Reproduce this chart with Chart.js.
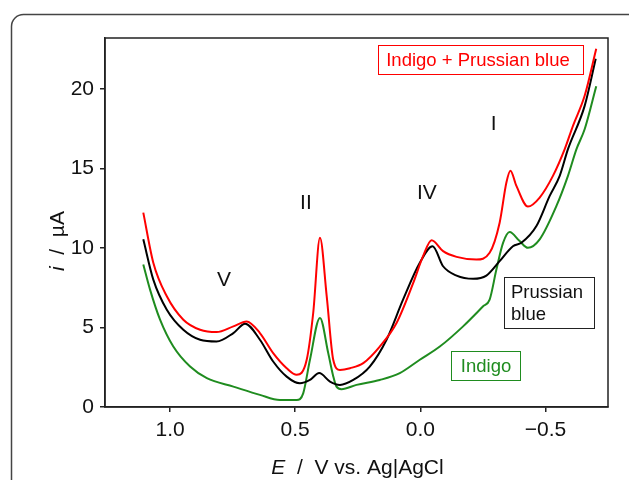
<!DOCTYPE html>
<html><head><meta charset="utf-8">
<script src="https://cdn.jsdelivr.net/npm/chart.js@4/dist/chart.umd.min.js"></script>
<style>html,body{margin:0;padding:0;background:#fff;}#wrap{width:629px;height:480px;}</style>
</head><body><div id="wrap"><canvas id="c" width="629" height="480"></canvas></div>
<script>
// Potential E (V vs Ag|AgCl) and current i (µA) for each series
const eMix = [1.107,1.067,1.013,0.947,0.880,0.814,0.747,0.694,0.641,0.588,0.534,0.494,0.454,0.428,0.401,0.374,0.348,0.321,0.281,0.228,0.162,0.095,0.029,-0.011,-0.045,-0.091,-0.145,-0.224,-0.277,-0.317,-0.344,-0.360,-0.384,-0.430,-0.477,-0.530,-0.577,-0.610,-0.657,-0.703];
const iMix = [12.22,9.07,6.96,5.49,4.86,4.71,5.07,5.38,4.65,3.39,2.44,2.02,2.97,5.91,10.64,6.96,2.97,2.33,2.44,2.76,3.80,5.28,7.77,9.48,10.49,9.80,9.44,9.27,9.70,11.59,14.11,14.85,13.90,12.60,13.17,14.53,16.21,17.68,19.58,22.52];
const ePB = [1.107,1.067,1.013,0.947,0.880,0.814,0.747,0.700,0.641,0.588,0.534,0.481,0.441,0.404,0.361,0.321,0.268,0.202,0.135,0.069,0.002,-0.049,-0.091,-0.145,-0.211,-0.264,-0.317,-0.370,-0.404,-0.464,-0.517,-0.557,-0.590,-0.657,-0.701];
const iPB = [10.54,8.01,6.12,4.86,4.23,4.12,4.65,5.24,4.23,2.86,1.91,1.49,1.70,2.13,1.60,1.39,1.70,2.54,4.23,6.75,9.07,10.11,8.85,8.26,8.06,8.26,9.17,10.11,10.33,11.38,13.27,14.53,16.21,18.95,21.89];
const eInd = [1.107,1.080,1.040,0.987,0.920,0.853,0.747,0.641,0.561,0.494,0.468,0.441,0.401,0.368,0.349,0.335,0.315,0.255,0.162,0.082,0.002,-0.078,-0.171,-0.251,-0.277,-0.304,-0.331,-0.357,-0.397,-0.430,-0.477,-0.544,-0.590,-0.624,-0.657,-0.703];
const iInd = [8.96,7.38,5.49,3.80,2.54,1.81,1.28,0.76,0.44,0.44,0.86,2.97,5.60,3.39,2.00,1.28,1.12,1.39,1.70,2.13,2.97,3.80,5.07,6.33,6.75,8.64,10.33,11.00,10.43,10.01,10.54,12.64,14.53,16.21,17.48,20.17];
const xTickValues = [1.0, 0.5, 0.0, -0.5];
const xTickLabels = ["1.0", "0.5", "0.0", "\u22120.5"];
const yTickValues = [0, 5, 10, 15, 20];
const yTickLabels = ["0", "5", "10", "15", "20"];
const peakLabels = ["V", "II", "IV", "I"];
const peakE = [0.784, 0.457, -0.026, -0.293];
const peakI = [7.95, 12.8, 13.44, 17.8];

const FONT = '"Liberation Sans", Arial, sans-serif';
const RED = '#ff0000', BLACK = '#000000', GREEN = '#1f8c1f';
const pts = (xs, ys) => xs.map((x, k) => ({x: x, y: ys[k]}));

const decor = {
  id: 'decor',
  beforeDraw(chart) {
    const ctx = chart.ctx;
    ctx.save();
    ctx.fillStyle = '#fff';
    ctx.fillRect(0, 0, chart.width, chart.height);
    ctx.strokeStyle = '#444';
    ctx.lineWidth = 1.5;
    ctx.beginPath();
    ctx.roundRect(11.5, 14.5, 640, 520, 12);
    ctx.stroke();
    ctx.restore();
  },
  afterDraw(chart) {
    const ctx = chart.ctx, a = chart.chartArea;
    const xs = chart.scales.x, ys = chart.scales.y;
    ctx.save();
    ctx.strokeStyle = '#222';
    ctx.lineWidth = 1.5;
    ctx.strokeRect(a.left, a.top, a.right - a.left, a.bottom - a.top);
    // peak labels
    ctx.fillStyle = '#111';
    ctx.font = '21px ' + FONT;
    ctx.textAlign = 'center';
    ctx.textBaseline = 'middle';
    peakLabels.forEach((t, k) => ctx.fillText(t, xs.getPixelForValue(peakE[k]), ys.getPixelForValue(peakI[k])));
    // legend boxes
    ctx.lineWidth = 1;
    ctx.font = '18.5px ' + FONT;
    ctx.strokeStyle = RED; ctx.fillStyle = RED;
    ctx.strokeRect(378.5, 45.5, 205, 29);
    ctx.fillText('Indigo + Prussian blue', 478, 61);
    ctx.strokeStyle = '#222'; ctx.fillStyle = '#111';
    ctx.strokeRect(504.5, 277.5, 90, 51);
    ctx.textAlign = 'left';
    ctx.fillText('Prussian', 511, 293);
    ctx.fillText('blue', 511, 315);
    ctx.strokeStyle = GREEN; ctx.fillStyle = GREEN;
    ctx.strokeRect(451.5, 351.5, 69, 29);
    ctx.textAlign = 'center';
    ctx.fillText('Indigo', 486, 367);
    // axis titles with italic symbols
    ctx.fillStyle = '#111';
    const drawMixed = (parts, cx, cy) => {
      let w = 0;
      parts.forEach(p => { ctx.font = (p[1] ? 'italic ' : '') + '21px ' + FONT; w += ctx.measureText(p[0]).width; });
      let x = cx - w / 2;
      ctx.textAlign = 'left';
      parts.forEach(p => { ctx.font = (p[1] ? 'italic ' : '') + '21px ' + FONT; ctx.fillText(p[0], x, cy); x += ctx.measureText(p[0]).width; });
    };
    drawMixed([['E', true], ['  /  V vs. Ag|AgCl', false]], (a.left + a.right) / 2 + 1, 468);
    ctx.save();
    ctx.translate(58, 241);
    ctx.rotate(-Math.PI / 2);
    drawMixed([['i', true], ['  /  \u00b5A', false]], 0, 0);
    ctx.restore();
    ctx.restore();
  }
};

new Chart(document.getElementById('c'), {
  type: 'line',
  data: {
    datasets: [
      {label: 'Indigo + Prussian blue', data: pts(eMix, iMix), borderColor: RED},
      {label: 'Prussian blue', data: pts(ePB, iPB), borderColor: BLACK},
      {label: 'Indigo', data: pts(eInd, iInd), borderColor: GREEN}
    ]
  },
  options: {
    responsive: false,
    animation: false,
    devicePixelRatio: 1,
    layout: {padding: {top: 38, right: 21, left: 0, bottom: 0}},
    elements: {
      line: {borderWidth: 2, cubicInterpolationMode: 'monotone', fill: false},
      point: {radius: 0}
    },
    plugins: {legend: {display: false}, tooltip: {enabled: false}},
    scales: {
      x: {
        type: 'linear', reverse: true, min: -0.75, max: 1.26,
        afterBuildTicks: s => { s.ticks = xTickValues.map(v => ({value: v})); },
        afterFit: s => { s.height = 73; },
        grid: {display: true, drawOnChartArea: false, drawTicks: true, tickLength: 5, color: '#222', lineWidth: 1.5},
        border: {display: true, color: '#222', width: 1.5},
        ticks: {color: '#111', font: {family: FONT, size: 21}, padding: 6, maxRotation: 0,
          callback: v => { const k = xTickValues.indexOf(v); return k >= 0 ? xTickLabels[k] : ''; }}
      },
      y: {
        type: 'linear', min: 0, max: 23.2,
        afterBuildTicks: s => { s.ticks = yTickValues.map(v => ({value: v})); },
        afterFit: s => { s.width = 105; },
        grid: {display: true, drawOnChartArea: false, drawTicks: true, tickLength: 5, color: '#222', lineWidth: 1.5},
        border: {display: true, color: '#222', width: 1.5},
        ticks: {color: '#111', font: {family: FONT, size: 21}, padding: 6,
          callback: v => { const k = yTickValues.indexOf(v); return k >= 0 ? yTickLabels[k] : ''; }}
      }
    }
  },
  plugins: [decor]
});
</script>
</body></html>
